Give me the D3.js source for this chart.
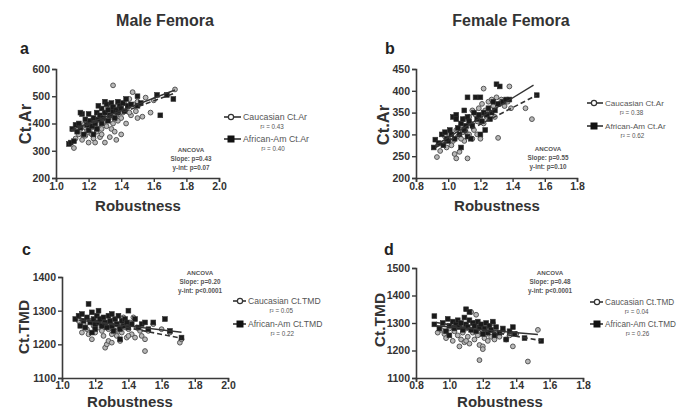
<!DOCTYPE html>
<html><head><meta charset="utf-8">
<script src="https://cdn.jsdelivr.net/npm/d3@7"></script>
<style>
body{margin:0;background:#fff;}
svg{font-family:"Liberation Sans",Arial,sans-serif;}
</style></head>
<body><svg id="c" width="681" height="410"></svg>
<script>
// ---------- data ----------
const columnTitles = ["Male Femora", "Female Femora"];
const panelLetters = ["a", "b", "c", "d"];
const yLabels = ["Ct.Ar", "Ct.Ar", "Ct.TMD", "Ct.TMD"];
const xTicksMale = [1.0, 1.2, 1.4, 1.6, 1.8, 2.0];
const xTicksFemale = [0.8, 1.0, 1.2, 1.4, 1.6, 1.8];
const yTicksA = [200, 300, 400, 500, 600];
const yTicksB = [200, 250, 300, 350, 400, 450];
const yTicksC = [1100, 1200, 1300, 1400];
const yTicksD = [1100, 1200, 1300, 1400, 1500];
const legendCau = ["Caucasian Ct.Ar", "Caucasian Ct.Ar", "Caucasian Ct.TMD", "Caucasian Ct.TMD"];
const legendAfr = ["African-Am Ct.Ar", "African-Am Ct.Ar", "African-Am Ct.TMD", "African-Am Ct.TMD"];
const r2Cau = ["r² = 0.43", "r² = 0.38", "r² = 0.05", "r² = 0.04"];
const r2Afr = ["r² = 0.40", "r² = 0.62", "r² = 0.22", "r² = 0.26"];
const ancovaSlope = ["Slope: p=0.43", "Slope: p=0.55", "Slope: p=0.20", "Slope: p=0.48"];
const ancovaInt = ["y-int: p=0.07", "y-int: p=0.10", "y-int: p<0.0001", "y-int: p<0.0001"];

// fitted regression lines (end points)
const fitA = {cauX:[1.09,1.73], cauY:[376,523], afrX:[1.09,1.73], afrY:[372,512]};
const fitB = {cauX:[0.92,1.53], cauY:[275,413], afrX:[0.92,1.55], afrY:[270,390]};
const fitC = {cauX:[1.1,1.72], cauY:[1272,1236], afrX:[1.1,1.72], afrY:[1278,1218]};
const fitD = {cauX:[0.92,1.53], cauY:[1290,1258], afrX:[0.92,1.55], afrY:[1302,1236]};

const aCau = [[1.11,310],[1.12,345],[1.14,360],[1.15,380],[1.16,340],[1.17,395],[1.18,355],[1.19,375],[1.2,330],[1.2,400],[1.21,365],[1.22,385],[1.23,345],[1.24,330],[1.24,410],[1.25,370],[1.26,395],[1.27,350],[1.27,420],[1.28,380],[1.29,405],[1.3,330],[1.3,440],[1.31,390],[1.32,415],[1.33,350],[1.33,455],[1.34,380],[1.34,425],[1.35,540],[1.35,400],[1.36,445],[1.36,370],[1.37,340],[1.37,430],[1.38,410],[1.38,465],[1.39,455],[1.4,360],[1.4,420],[1.41,440],[1.42,475],[1.43,400],[1.44,460],[1.45,490],[1.46,430],[1.47,515],[1.48,470],[1.49,445],[1.5,420],[1.5,480],[1.53,425],[1.55,495],[1.58,440],[1.6,485],[1.73,525],[1.28,360],[1.22,360],[1.18,385],[1.45,440]];
const aAfr = [[1.08,325],[1.09,330],[1.1,380],[1.11,335],[1.12,395],[1.13,370],[1.14,400],[1.15,385],[1.16,435],[1.17,360],[1.18,415],[1.19,395],[1.2,435],[1.2,375],[1.21,410],[1.22,390],[1.23,420],[1.24,400],[1.25,440],[1.25,380],[1.26,415],[1.27,430],[1.28,455],[1.28,400],[1.29,420],[1.3,480],[1.3,440],[1.31,470],[1.32,410],[1.32,450],[1.33,430],[1.34,475],[1.35,445],[1.35,460],[1.36,420],[1.37,450],[1.38,480],[1.38,440],[1.39,465],[1.4,455],[1.41,475],[1.42,445],[1.43,490],[1.44,465],[1.46,470],[1.5,500],[1.5,465],[1.52,475],[1.62,505],[1.64,430],[1.72,490],[1.68,505],[1.26,465],[1.15,440],[1.23,360]];

const bCau = [[0.93,248],[0.95,262],[0.97,280],[0.99,270],[1.0,290],[1.01,300],[1.03,285],[1.04,255],[1.05,245],[1.05,310],[1.06,295],[1.07,260],[1.08,320],[1.09,305],[1.1,285],[1.1,335],[1.11,315],[1.12,245],[1.12,300],[1.13,340],[1.14,325],[1.15,290],[1.15,355],[1.16,310],[1.17,345],[1.18,330],[1.19,360],[1.2,290],[1.2,340],[1.21,370],[1.22,405],[1.22,325],[1.23,355],[1.24,340],[1.25,375],[1.26,350],[1.27,380],[1.28,365],[1.29,340],[1.3,385],[1.31,292],[1.32,370],[1.33,380],[1.35,365],[1.37,375],[1.38,410],[1.39,360],[1.48,360],[1.52,335],[1.02,275],[1.08,290],[1.13,300],[1.18,300],[0.98,295]];
const bAfr = [[0.91,270],[0.92,288],[0.94,280],[0.96,300],[0.97,275],[0.98,305],[1.0,285],[1.01,310],[1.02,300],[1.03,340],[1.04,290],[1.05,345],[1.06,315],[1.07,300],[1.08,270],[1.08,325],[1.09,335],[1.1,310],[1.1,355],[1.11,320],[1.12,295],[1.12,340],[1.13,330],[1.14,290],[1.15,320],[1.16,350],[1.17,385],[1.18,335],[1.19,345],[1.2,385],[1.21,330],[1.22,350],[1.23,310],[1.24,345],[1.25,360],[1.26,335],[1.27,350],[1.28,375],[1.29,355],[1.3,415],[1.31,370],[1.32,410],[1.34,375],[1.36,380],[1.38,380],[1.55,390],[1.12,385],[1.05,335],[0.99,290],[1.2,300]];

const cCau = [[1.1,1270],[1.12,1235],[1.13,1260],[1.15,1245],[1.17,1270],[1.18,1215],[1.19,1255],[1.2,1235],[1.21,1275],[1.22,1250],[1.23,1265],[1.24,1240],[1.25,1225],[1.26,1190],[1.26,1255],[1.27,1200],[1.28,1210],[1.28,1245],[1.29,1260],[1.3,1230],[1.31,1270],[1.32,1250],[1.33,1225],[1.34,1240],[1.35,1210],[1.35,1260],[1.36,1235],[1.37,1280],[1.38,1250],[1.39,1220],[1.4,1245],[1.41,1265],[1.42,1230],[1.43,1280],[1.44,1220],[1.45,1250],[1.47,1240],[1.48,1225],[1.5,1180],[1.5,1215],[1.52,1240],[1.55,1260],[1.6,1245],[1.65,1235],[1.71,1205],[1.72,1215],[1.3,1205],[1.24,1275],[1.16,1230],[1.4,1225]];
const cAfr = [[1.08,1275],[1.1,1285],[1.11,1255],[1.12,1290],[1.13,1270],[1.14,1250],[1.15,1280],[1.16,1320],[1.17,1265],[1.18,1295],[1.19,1275],[1.2,1260],[1.21,1285],[1.22,1300],[1.22,1265],[1.23,1275],[1.24,1255],[1.25,1280],[1.26,1265],[1.27,1250],[1.28,1285],[1.29,1270],[1.3,1255],[1.3,1290],[1.31,1240],[1.32,1275],[1.33,1260],[1.34,1285],[1.35,1245],[1.36,1270],[1.37,1255],[1.38,1275],[1.39,1265],[1.4,1300],[1.4,1250],[1.42,1260],[1.44,1275],[1.46,1250],[1.48,1260],[1.5,1265],[1.52,1245],[1.55,1265],[1.62,1275],[1.65,1240],[1.72,1220],[1.2,1245],[1.35,1215],[1.18,1235]];

const dCau = [[0.93,1265],[0.95,1275],[0.97,1260],[1.0,1280],[1.02,1235],[1.03,1270],[1.05,1255],[1.06,1215],[1.07,1240],[1.08,1265],[1.09,1230],[1.1,1280],[1.11,1250],[1.12,1225],[1.13,1340],[1.14,1265],[1.15,1240],[1.16,1330],[1.17,1255],[1.18,1165],[1.18,1220],[1.19,1270],[1.2,1215],[1.21,1245],[1.22,1260],[1.23,1235],[1.24,1275],[1.25,1250],[1.26,1300],[1.27,1240],[1.28,1265],[1.3,1250],[1.32,1270],[1.34,1240],[1.36,1255],[1.38,1215],[1.4,1260],[1.47,1160],[1.53,1275],[1.05,1290],[1.15,1300],[0.98,1245],[1.2,1205],[1.1,1235]];
const dAfr = [[0.91,1325],[0.91,1295],[0.94,1280],[0.96,1300],[0.98,1270],[0.99,1315],[1.0,1290],[1.02,1305],[1.03,1280],[1.04,1295],[1.05,1310],[1.06,1285],[1.07,1300],[1.08,1275],[1.09,1320],[1.1,1350],[1.1,1295],[1.11,1285],[1.12,1310],[1.13,1275],[1.14,1300],[1.15,1290],[1.16,1270],[1.17,1305],[1.18,1285],[1.19,1295],[1.2,1260],[1.21,1280],[1.22,1300],[1.23,1265],[1.24,1290],[1.25,1275],[1.26,1305],[1.27,1255],[1.28,1285],[1.3,1265],[1.32,1280],[1.34,1240],[1.36,1270],[1.38,1285],[1.39,1260],[1.45,1245],[1.55,1235],[1.12,1340],[1.0,1255]];

// ---------- layout ----------
const svg = d3.select("#c");
const ink = "#3a3a3a";

const panels = [
  {i:0, x0:56, x1:219, y0:69, y1:178, xT:xTicksMale, yT:yTicksA, cau:aCau, afr:aAfr, fit:fitA,
   letter:[20,54], ylab:[25,124,16.5], xlab:[138,211], xpad:1,
   leg:{sx:231, tx:243, y1:117, y2:139, fs:8.8}, anc:[191,152]},
  {i:1, x0:416, x1:577, y0:69, y1:178, xT:xTicksFemale, yT:yTicksB, cau:bCau, afr:bAfr, fit:fitB,
   letter:[385,54], ylab:[383,125,16.5], xlab:[497,211], xpad:1,
   leg:{sx:594, tx:605, y1:103, y2:126, fs:8.1}, anc:[548,151]},
  {i:2, x0:62, x1:228, y0:277, y1:378, xT:xTicksMale, yT:yTicksC, cau:cCau, afr:cAfr, fit:fitC,
   letter:[22,255], ylab:[23,327,15.5], xlab:[130,407], xpad:0,
   leg:{sx:240, tx:248, y1:301, y2:324, fs:8.6}, anc:[200,275]},
  {i:3, x0:416, x1:583, y0:268, y1:378, xT:xTicksFemale, yT:yTicksD, cau:dCau, afr:dAfr, fit:fitD,
   letter:[384,255], ylab:[379,320,15.5], xlab:[500,407], xpad:0,
   leg:{sx:597, tx:605, y1:302, y2:324, fs:8.2}, anc:[550,275]}
];

// column titles
svg.append("text").attr("x",165).attr("y",26).attr("text-anchor","middle")
  .attr("font-size",16).attr("font-weight","bold").attr("fill","#333").text(columnTitles[0]);
svg.append("text").attr("x",511).attr("y",26).attr("text-anchor","middle")
  .attr("font-size",16).attr("font-weight","bold").attr("fill","#333").text(columnTitles[1]);

panels.forEach(p => {
  const g = svg.append("g");
  const xs = d3.scaleLinear().domain(d3.extent(p.xT)).range([p.x0, p.x1]);
  const ys = d3.scaleLinear().domain(d3.extent(p.yT)).range([p.y1, p.y0]);

  const xAxis = g.append("g").attr("transform",`translate(0,${p.y1})`)
    .call(d3.axisBottom(xs).tickValues(p.xT).tickFormat(d3.format(".1f"))
      .tickSizeOuter(0).tickSize(4).tickPadding(p.xpad));
  const yAxis = g.append("g").attr("transform",`translate(${p.x0},0)`)
    .call(d3.axisLeft(ys).tickValues(p.yT).tickFormat(d3.format("d"))
      .tickSizeOuter(0).tickSize(4).tickPadding(2));
  [xAxis, yAxis].forEach(ax => {
    ax.select(".domain").attr("stroke", ink).attr("stroke-width",1.6);
    ax.selectAll(".tick line").attr("stroke", ink).attr("stroke-width",1.4);
    ax.selectAll(".tick text").attr("fill","#333").attr("font-size",10.5)
      .attr("font-weight","bold").attr("font-family","Liberation Sans, Arial, sans-serif");
  });

  // letter
  svg.append("text").attr("x",p.letter[0]).attr("y",p.letter[1]).attr("font-size",16)
    .attr("font-weight","bold").attr("fill","#222").text(panelLetters[p.i]);
  // axis labels
  svg.append("text").attr("x",p.xlab[0]).attr("y",p.xlab[1]).attr("text-anchor","middle")
    .attr("font-size",15).attr("font-weight","bold").attr("fill","#333").text("Robustness");
  svg.append("text").attr("transform",`translate(${p.ylab[0]},${p.ylab[1]}) rotate(-90)`)
    .attr("text-anchor","middle").attr("dy","0.36em").attr("font-size",p.ylab[2])
    .attr("font-weight","bold").attr("fill","#333").text(yLabels[p.i]);

  // points
  g.append("g").selectAll("circle").data(p.cau).join("circle")
    .attr("cx",d=>xs(d[0])).attr("cy",d=>ys(d[1])).attr("r",2.4)
    .attr("fill","#b8b8b8").attr("stroke","#555").attr("stroke-width",1);
  g.append("g").selectAll("rect").data(p.afr).join("rect")
    .attr("x",d=>xs(d[0])-2.4).attr("y",d=>ys(d[1])-2.4).attr("width",4.8).attr("height",4.8)
    .attr("fill","#1a1a1a").attr("stroke","#333").attr("stroke-width",0.6);

  // fit lines
  g.append("line").attr("x1",xs(p.fit.cauX[0])).attr("x2",xs(p.fit.cauX[1]))
    .attr("y1",ys(p.fit.cauY[0])).attr("y2",ys(p.fit.cauY[1]))
    .attr("stroke","#333").attr("stroke-width",1.4);
  g.append("line").attr("x1",xs(p.fit.afrX[0])).attr("x2",xs(p.fit.afrX[1]))
    .attr("y1",ys(p.fit.afrY[0])).attr("y2",ys(p.fit.afrY[1]))
    .attr("stroke","#333").attr("stroke-width",1.6).attr("stroke-dasharray","5,3");

  // ANCOVA
  const an = svg.append("g").attr("font-weight","bold")
    .attr("fill","#555").attr("text-anchor","middle");
  an.append("text").attr("x",p.anc[0]).attr("y",p.anc[1]).attr("font-size",6.2).text("ANCOVA");
  an.append("text").attr("x",p.anc[0]).attr("y",p.anc[1]+9).attr("font-size",6.3).text(ancovaSlope[p.i]);
  an.append("text").attr("x",p.anc[0]).attr("y",p.anc[1]+18).attr("font-size",6.3).text(ancovaInt[p.i]);

  // legend
  const L = p.leg;
  const lg = svg.append("g");
  function entry(y, name, r2, square){
    lg.append("line").attr("x1",L.sx-7).attr("x2",L.tx-2).attr("y1",y).attr("y2",y)
      .attr("stroke","#333").attr("stroke-width",1.6);
    if (square) {
      lg.append("rect").attr("x",L.sx-3.5).attr("y",y-3.5).attr("width",7).attr("height",7).attr("fill","#111");
    } else {
      lg.append("circle").attr("cx",L.sx).attr("cy",y).attr("r",2.6)
        .attr("fill","#fff").attr("stroke","#333").attr("stroke-width",1.2);
    }
    const t = lg.append("text").attr("x",L.tx).attr("y",y).attr("dy","0.35em").attr("font-size",L.fs)
      .attr("fill","#555").text(name);
    const w = t.node().getComputedTextLength();
    lg.append("text").attr("x",L.tx + w/2 - 3).attr("y",y+10).attr("dy","0.35em").attr("font-size",6.3)
      .attr("fill","#555").attr("text-anchor","middle").text(r2);
  }
  entry(L.y1, legendCau[p.i], r2Cau[p.i], false);
  entry(L.y2, legendAfr[p.i], r2Afr[p.i], true);
});
</script></body></html>
